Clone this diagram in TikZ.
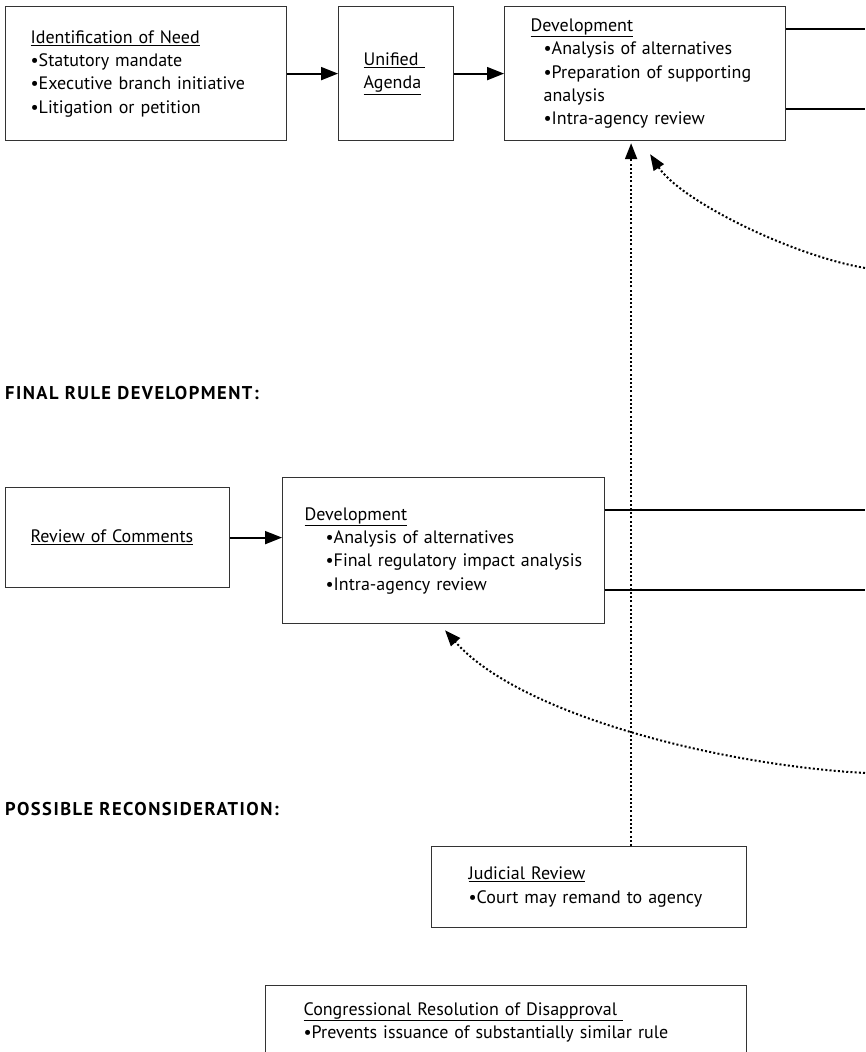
\documentclass[tikz,border=0pt]{standalone}
\usepackage{fontspec}
\setmainfont{PT Sans}
\usetikzlibrary{arrows.meta,positioning}

\tikzset{
  box/.style={draw=black!80, line width=1.2pt, inner xsep=25pt, inner ysep=0pt,
    align=left, anchor=north west, font=\fontsize{18}{23.3}\selectfont},
  flow/.style={line width=1.8pt, -{Triangle[length=17pt,width=13pt]}},
  link/.style={line width=1.8pt},
  back/.style={line width=2pt, dash pattern=on 2pt off 2.2pt,
    -{Triangle[length=16pt,width=12pt]}},
  heading/.style={font=\bfseries\fontsize{18.5}{20}\selectfont\addfontfeature{LetterSpace=8},
    anchor=west, inner sep=0pt}
}
\newcommand{\ind}{\hspace*{13pt}}
\newcommand{\indd}{\hspace*{21pt}}

\begin{document}
\begin{tikzpicture}[x=1pt,y=-1pt]
    \useasboundingbox (0,0) rectangle (865,1052);

    % proposed rule
    \node[box, text width=231pt, minimum height=134pt] (need) at (5,6)
      {\underline{Identification of Need}\\ •Statutory mandate\\ •Executive branch initiative\\ •Litigation or petition};
    \node[box, text width=65pt, minimum height=134pt] (agenda) at (338,6)
      {\underline{Unified\ }\\ \underline{Agenda}};
    \node[box, inner xsep=26pt, text width=229pt, minimum height=134pt] (dev1) at (504,6)
      {\underline{Development}\\ \ind•Analysis of alternatives\\ \ind•Preparation of supporting\\ \ind analysis\\ \ind•Intra-agency review};

    \coordinate (out1) at (865,29);
    \coordinate (out2) at (865,109);
    \coordinate (ret1) at (865,268);

    \draw[flow] (need) -- (agenda);
    \draw[flow] (agenda) -- (dev1);
    \draw[link] (out1 -| dev1.east) -- (out1);
    \draw[link] (out2 -| dev1.east) -- (out2);
    \draw[back] (ret1) .. controls (790,255) and (680,200) .. ([xshift=5pt,yshift=-13pt]dev1.south);

    % final rule
    \node[heading] (final) at (5,393) {FINAL RULE DEVELOPMENT:};

    \node[box, text width=174pt, minimum height=100pt] (review) at (5,487)
      {\underline{Review of Comments}};
    \node[box, inner xsep=22pt, text width=278pt, minimum height=146pt] (dev2) at (282,477)
      {\underline{Development}\\ \indd•Analysis of alternatives\\ \indd•Final regulatory impact analysis\\ \indd•Intra-agency review};

    \coordinate (out3) at (865,510);
    \coordinate (out4) at (865,590);
    \coordinate (ret2) at (865,773);

    \draw[flow] (review) -- (review -| dev2.west);
    \draw[link] (out3 -| dev2.east) -- (out3);
    \draw[link] (out4 -| dev2.east) -- (out4);
    \draw[back] (ret2) .. controls (720,765) and (520,715) .. ([xshift=163pt,yshift=-6pt]dev2.south west);

    % reconsideration
    \node[heading] (recon) at (5,809) {POSSIBLE RECONSIDERATION:};

    \node[box, inner xsep=37pt, text width=241pt, minimum height=81pt] (court) at (431,846)
      {\underline{Judicial Review}\\ •Court may remand to agency};
    \node[box, inner xsep=38pt, text width=405pt, minimum height=73pt] (congress) at (265,985)
      {\underline{Congressional Resolution of Disapproval\ }\\ •Prevents issuance of substantially similar rule};

    \draw[back, shorten >=2pt] ([xshift=42pt]court.north) -- ([xshift=42pt]court.north |- dev1.south);
\end{tikzpicture}
\end{document}
